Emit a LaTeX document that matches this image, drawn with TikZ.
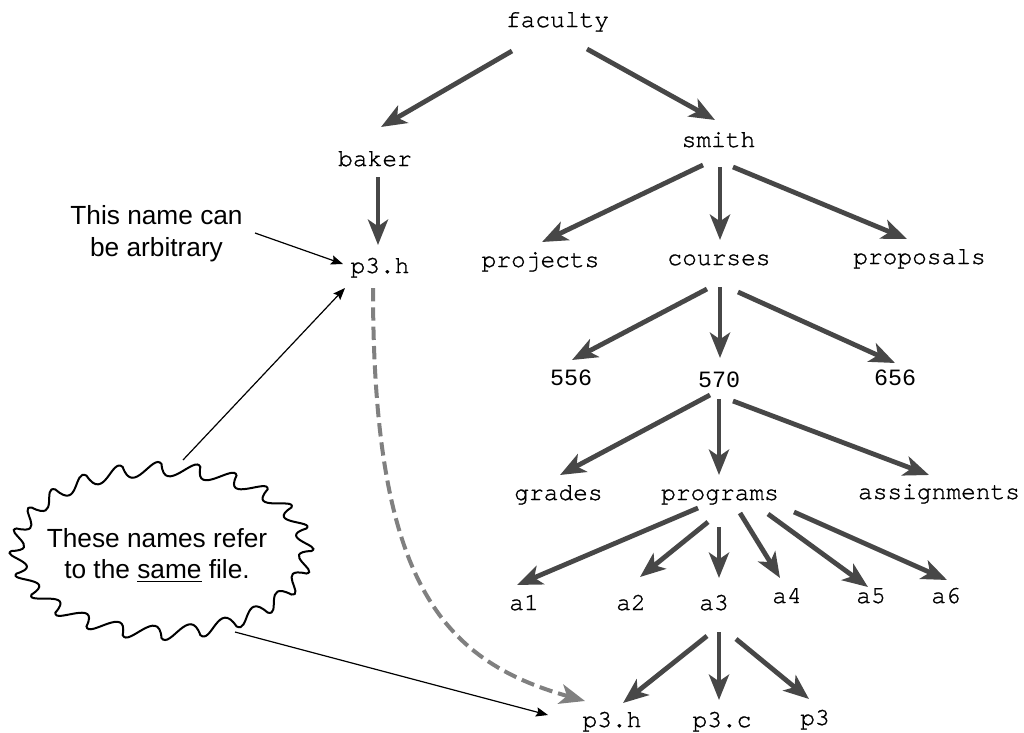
\documentclass[tikz,border=0pt]{standalone}
\usepackage{fontspec}
\setmainfont{Liberation Sans}
\newfontfamily\codefont[FakeBold=1.2]{TeX Gyre Cursor}
\newfontfamily\numfont{Liberation Mono}
\usetikzlibrary{arrows.meta,calc}
\definecolor{treegray}{RGB}{71,71,71}
\definecolor{linkgray}{RGB}{128,128,128}
% one branch of the directory tree, end points given relative to the node baselines
\newcommand\branch[4]{\draw[tree] ($(#1.base)+(#2)$) -- ($(#3.base)+(#4)$);}
\begin{document}
\begin{tikzpicture}[x=0.75pt,y=-0.75pt,
  fname/.style={inner sep=0pt, anchor=base, font=\codefont\fontsize{18.4}{22}\selectfont},
  fnum/.style={fname, font=\numfont\fontsize{17.5}{21}\selectfont},
  note/.style={inner sep=0pt, align=center, font=\fontsize{19.7}{23.8}\selectfont},
  tree/.style={draw=treegray, line width=3.6pt, -{Stealth[length=19pt,width=15pt,inset=5pt]}},
  link/.style={draw=linkgray, line width=3pt, dash pattern=on 10pt off 4.5pt,
               -{Stealth[length=19pt,width=15pt,inset=5pt]}},
  pointer/.style={draw=black, line width=0.9pt, -{Stealth[length=9pt,width=7pt,inset=1.5pt]}},
  cloudline/.style={draw=black, line width=1.5pt, line join=miter}]
\fill[white] (0,0) rectangle (1024,732);
\useasboundingbox (0,0) rectangle (1024,732);

% directory names
\node[fname] (faculty)   at (557.5,27)  {faculty};
\node[fname] (baker)     at (375,166)   {baker};
\node[fname] (smith)     at (718.5,147) {smith};
\node[fname] (linkname)  at (380,273)   {p3.h};
\node[fname] (projects)  at (540.5,267) {projects};
\node[fname] (courses)   at (719,265)   {courses};
\node[fname] (proposals) at (919.5,264) {proposals};
\node[fnum]  (c556)      at (571,385)   {556};
\node[fnum]  (c570)      at (719,387)   {570};
\node[fnum]  (c656)      at (895,385)   {656};
\node[fname] (grades)    at (558.5,500) {grades};
\node[fname] (programs)  at (720,500)   {programs};
\node[fname] (assign)    at (939,499)   {assignments};
\node[fname] (a1)        at (524,610)   {a1};
\node[fname] (a2)        at (631,610)   {a2};
\node[fname] (a3)        at (714,610)   {a3};
\node[fname] (a4)        at (787,603)   {a4};
\node[fname] (a5)        at (871,603)   {a5};
\node[fname] (a6)        at (946,603)   {a6};
\node[fname] (realname)  at (612,727)   {p3.h};
\node[fname] (p3c)       at (722,727)   {p3.c};
\node[fname] (p3)        at (815,725)   {p3};

% tree branches
\branch{faculty}{-45.5,24}{baker}{6,-39}
\branch{faculty}{29.5,22}{smith}{-3.5,-27}
\branch{baker}{3,11}{linkname}{-2,-28}
\branch{smith}{-15.5,18}{projects}{1.5,-25}
\branch{smith}{1.5,20}{courses}{1,-25}
\branch{smith}{14.5,20}{proposals}{-12.5,-25}
\branch{courses}{-12,24}{c556}{1,-25}
\branch{courses}{1,22}{c570}{1,-29}
\branch{courses}{19,27}{c656}{0,-22}
\branch{c570}{-9,8}{grades}{1.5,-25}
\branch{c570}{0,12}{programs}{-1,-25}
\branch{c570}{14,14}{assign}{-10,-24}
\branch{programs}{-22,8}{a1}{-7,-25}
\branch{programs}{-12,22}{a2}{9,-33}
\branch{programs}{-1,27}{a3}{5,-32}
\branch{programs}{20,13}{a4}{-7,-25}
\branch{programs}{48,14}{a5}{-3,-16}
\branch{programs}{74,12}{a6}{1,-23}
\branch{a3}{-7,26}{realname}{11,-24}
\branch{a3}{5,22}{p3c}{-3,-27}
\branch{a3}{22,29}{p3}{-6,-26}

% the link from baker's p3.h to the real file
\draw[link] ($(linkname.base)+(-7,15)$)
  .. controls ($(linkname.base)+(-7,307)$) and ($(realname.base)+(-172,-67)$)
  .. ($(realname.base)+(-27,-26)$);

% annotation
\node[note] (arb) at (156.5,234) {This name can\\be arbitrary};
\draw[pointer] ($(arb)+(98.5,-1)$) -- ($(linkname.base)+(-37,-9)$);

% callout cloud: sharp tips on an ellipse joined by hooked lobes
\coordinate (cloudc) at (161.5,551);
\begin{scope}[shift={(161.5,551)}]
  \draw[cloudline] (150,0)
    \foreach \i in {0,...,23} {
      .. controls ({118*cos((\i+0.08)*360/24)},{55*sin((\i+0.08)*360/24)})
              and ({162*cos((\i+0.8)*360/24)},{99*sin((\i+0.8)*360/24)})
      .. ({150*cos((\i+1)*360/24)},{87*sin((\i+1)*360/24)})
    } -- cycle;
\end{scope}
\node[note] (same) at (157,555) {These names refer\\to the \underline{same} file.};
\coordinate (cloudtop) at ($(cloudc)+(21.5,-91)$);
\coordinate (cloudbot) at ($(cloudc)+(73.5,81)$);
\draw[pointer] (cloudtop) -- ($(linkname.base)+(-35,15)$);
\draw[pointer] (cloudbot) -- ($(realname.base)+(-64,-12)$);
\end{tikzpicture}
\end{document}
